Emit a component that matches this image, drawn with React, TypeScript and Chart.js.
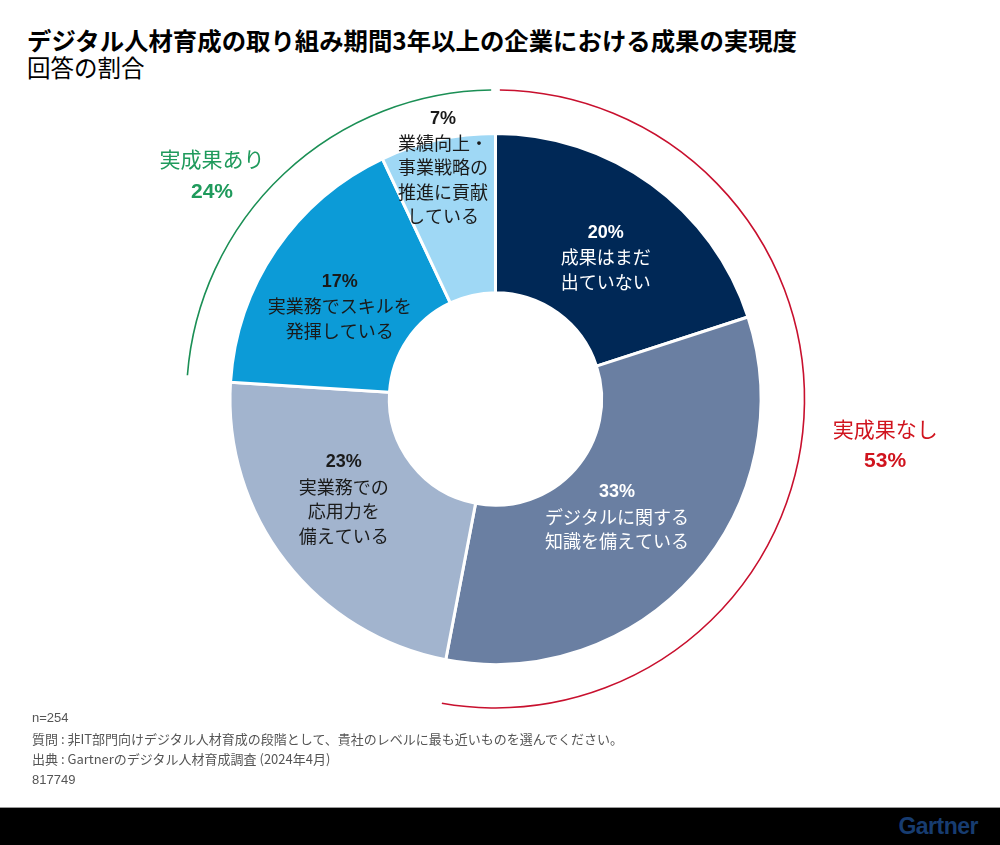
import React, { useEffect, useRef } from "react";
import { Chart, registerables } from "chart.js";

Chart.register(...registerables);

// ---- data ----
const categories: string[][] = [
  ["成果はまだ", "出ていない"],
  ["デジタルに関する", "知識を備えている"],
  ["実業務での", "応用力を", "備えている"],
  ["実業務でスキルを", "発揮している"],
  ["業績向上・", "事業戦略の", "推進に貢献", "している"],
];
const values: number[] = [20, 33, 23, 17, 7];
const percentLabels: string[] = ["20%", "33%", "23%", "17%", "7%"];

const groupNames: string[] = ["実成果なし", "実成果あり"];
const groupPercents: string[] = ["53%", "24%"];
const groupMembers: number[][] = [
  [0, 1],
  [3, 4],
];

const titleText = "デジタル人材育成の取り組み期間3年以上の企業における成果の実現度";
const subtitleText = "回答の割合";
const footnotes: string[] = [
  "n=254",
  "質問 : 非IT部門向けデジタル人材育成の段階として、貴社のレベルに最も近いものを選んでください。",
  "出典 : Gartnerのデジタル人材育成調査 (2024年4月)",
  "817749",
];

// ---- styles ----
const sliceColors = ["#002856", "#6a7fa2", "#a2b4ce", "#0c9bd7", "#9fd8f5"];
const sliceTextColors = ["#ffffff", "#ffffff", "#1a1a1a", "#1a1a1a", "#1a1a1a"];
const sliceLabelShift: number[][] = [
  [1, 9],
  [-18, -5],
  [-5, -14],
  [-2, 12],
  [-12, -50],
];
const groupColors = ["#c8102e", "#1b8f55"];
const groupTextColors = ["#d0141e", "#1f9a5c"];
const groupLabelShift: number[][] = [
  [82, 17],
  [-72, 2],
];

const CJK = '"Noto Sans CJK JP", "Noto Sans", sans-serif';
const LAT = '"Liberation Sans", Arial, "Noto Sans CJK JP", sans-serif';

const labelPlugin = {
  id: "sliceLabels",
  afterDatasetsDraw(chart: any) {
    const ctx: CanvasRenderingContext2D = chart.ctx;
    const arcs = chart.getDatasetMeta(0).data as any[];
    ctx.save();
    ctx.textAlign = "center";
    ctx.textBaseline = "middle";

    // outer group arcs
    groupMembers.forEach((members, gi) => {
      const first = arcs[members[0]].getProps(["x", "y", "startAngle", "outerRadius"], true);
      const last = arcs[members[members.length - 1]].getProps(["endAngle"], true);
      const r = first.outerRadius + 43.5;
      const a0 = first.startAngle + 0.014;
      const a1 = last.endAngle - 0.014;
      ctx.beginPath();
      ctx.arc(first.x, first.y, r, a0, a1);
      ctx.strokeStyle = groupColors[gi];
      ctx.lineWidth = 1.6;
      ctx.stroke();
      const mid = (first.startAngle + last.endAngle) / 2;
      const cx = first.x + r * Math.cos(mid) + groupLabelShift[gi][0];
      const cy = first.y + r * Math.sin(mid) + groupLabelShift[gi][1];
      ctx.fillStyle = groupTextColors[gi];
      ctx.font = `21px ${CJK}`;
      ctx.fillText(groupNames[gi], cx, cy - 16.5);
      ctx.font = `bold 21px ${LAT}`;
      ctx.fillText(groupPercents[gi], cx, cy + 16.5);
    });

    // slice labels
    arcs.forEach((arc, i) => {
      const p = arc.tooltipPosition(true);
      const lines = [percentLabels[i], ...categories[i]];
      const lh = 24.5;
      const cx = p.x + sliceLabelShift[i][0];
      const cy = p.y + sliceLabelShift[i][1];
      const top = cy - ((lines.length - 1) * lh) / 2;
      ctx.fillStyle = sliceTextColors[i];
      lines.forEach((t, li) => {
        ctx.font = li === 0 ? `bold 18px ${LAT}` : `18px ${CJK}`;
        ctx.fillText(t, cx, top + li * lh);
      });
    });
    ctx.restore();
  },
};

export default function App() {
  const canvasRef = useRef<HTMLCanvasElement | null>(null);

  useEffect(() => {
    if (!canvasRef.current) return;
    const chart = new Chart(canvasRef.current, {
      type: "doughnut",
      data: {
        labels: categories.map((c) => c.join("")),
        datasets: [
          {
            data: values,
            backgroundColor: sliceColors,
            borderColor: "#ffffff",
            borderWidth: 3,
          },
        ],
      },
      options: {
        responsive: false,
        animation: false,
        devicePixelRatio: 1,
        cutout: "40%",
        layout: {
          padding: { left: 228.5, right: 237.5, top: 132, bottom: 179 },
        },
        plugins: {
          legend: { display: false },
          tooltip: { enabled: false },
        },
      },
      plugins: [labelPlugin],
    });
    return () => chart.destroy();
  }, []);

  return (
    <div
      style={{
        position: "absolute",
        left: 0,
        top: 0,
        width: 1000,
        height: 845,
        background: "#ffffff",
        overflow: "hidden",
        fontFamily: CJK,
      }}
    >
      <div
        style={{
          position: "absolute",
          left: 27,
          top: 25,
          fontSize: 24.4,
          lineHeight: "30px",
          fontWeight: 700,
          color: "#000",
          whiteSpace: "nowrap",
        }}
      >
        {titleText}
      </div>
      <div
        style={{
          position: "absolute",
          left: 27,
          top: 53,
          fontSize: 23.5,
          lineHeight: "28px",
          color: "#000",
          whiteSpace: "nowrap",
        }}
      >
        {subtitleText}
      </div>
      <canvas
        ref={canvasRef}
        width={1000}
        height={845}
        style={{ position: "absolute", left: 0, top: 0, width: 1000, height: 845 }}
      />
      <div style={{ position: "absolute", left: 32, top: 708 }}>
        {footnotes.map((f, i) => (
          <div
            key={i}
            style={{
              fontSize: 13,
              lineHeight: "20.5px",
              color: "#555555",
              whiteSpace: "nowrap",
              fontFamily: i === 0 || i === 3 ? LAT : CJK,
            }}
          >
            {f}
          </div>
        ))}
      </div>
      <div
        style={{
          position: "absolute",
          left: 0,
          top: 807,
          width: 1000,
          height: 1,
          background: "#9a9a9a",
        }}
      />
      <div
        style={{
          position: "absolute",
          left: 0,
          top: 808,
          width: 1000,
          height: 37,
          background: "#000000",
        }}
      >
        <div
          style={{
            position: "absolute",
            right: 22,
            top: 4,
            fontFamily: LAT,
            fontWeight: 700,
            fontSize: 23,
            lineHeight: "28px",
            color: "#173c70",
            letterSpacing: -0.5,
          }}
        >
          Gartner
        </div>
      </div>
    </div>
  );
}
